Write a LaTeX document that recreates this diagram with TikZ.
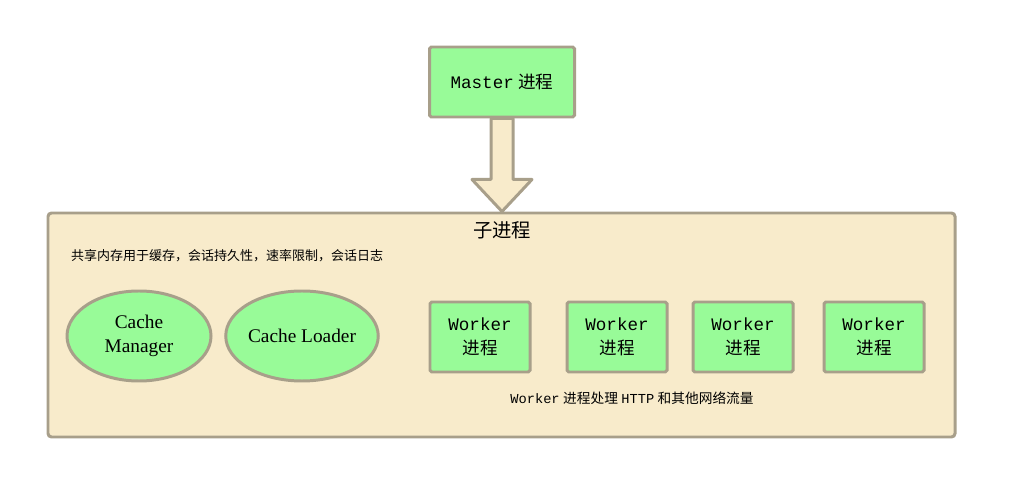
\documentclass[tikz,border=0pt]{standalone}
\usepackage{fontspec}
\setmainfont{Liberation Serif}
\newfontfamily\monofont{Liberation Mono}
\newfontfamily\cjk{Noto Sans CJK SC}
\usetikzlibrary{positioning,calc,shapes.geometric}
\definecolor{boxgreen}{HTML}{98FB98}
\definecolor{edgegrey}{HTML}{A89F8A}
\definecolor{paleyellow}{HTML}{F8EBCB}
\begin{document}
\begin{tikzpicture}[x=0.02cm,y=-0.02cm,
    procbox/.style={rectangle,draw=edgegrey,fill=boxgreen,line width=1.7pt,rounded corners=1pt,align=center,font=\fontsize{10}{14}\selectfont},
    cachenode/.style={ellipse,draw=edgegrey,fill=boxgreen,line width=1.7pt,minimum width=144*0.02cm,minimum height=90*0.02cm,inner sep=0pt,align=center,font=\fontsize{11}{14}\selectfont}]
		\useasboundingbox (0,0) rectangle (1017,499);
		\node [rectangle,draw=edgegrey,fill=paleyellow,line width=1.7pt,rounded corners=2pt,minimum width=907*0.02cm,minimum height=224*0.02cm] (child) at (501.5,325) {};
		\node [procbox,minimum width=145*0.02cm,minimum height=70*0.02cm] (master) at (502,82) {{\monofont Master} {\cjk 进程}};
		\node [font=\cjk\fontsize{11}{13}\selectfont] (title) at (502,230) {子进程};
		\node [font=\cjk\fontsize{7.4}{9}\selectfont,anchor=west] (shared) at (65,256) {共享内存用于缓存，会话持久性，速率限制，会话日志};
		\node [cachenode] (manager) at (139,336) {Cache\\Manager};
		\node [cachenode] (loader) at (302,336) {Cache Loader};
		\foreach \x/\n in {480/1, 617/2, 743/3, 874/4}
			\node [procbox,minimum width=100*0.02cm,minimum height=70*0.02cm] (worker\n) at (\x,337) {{\monofont Worker}\\{\cjk 进程}};
		\node [font=\fontsize{7.8}{9}\selectfont] (traffic) at (632,398) {{\monofont Worker} {\cjk 进程处理} {\monofont HTTP} {\cjk 和其他网络流量}};
		\draw [edgegrey,fill=paleyellow,line width=1.7pt,line join=round]
			($(master.south)+(-11,0)$) -- ++(0,61) -- ++(-19,0) -- (child.north -| master.south) -- ($(master.south)+(30,61)$) -- ++(-19,0) -- ($(master.south)+(11,0)$) -- cycle;
	\end{tikzpicture}
\end{document}
